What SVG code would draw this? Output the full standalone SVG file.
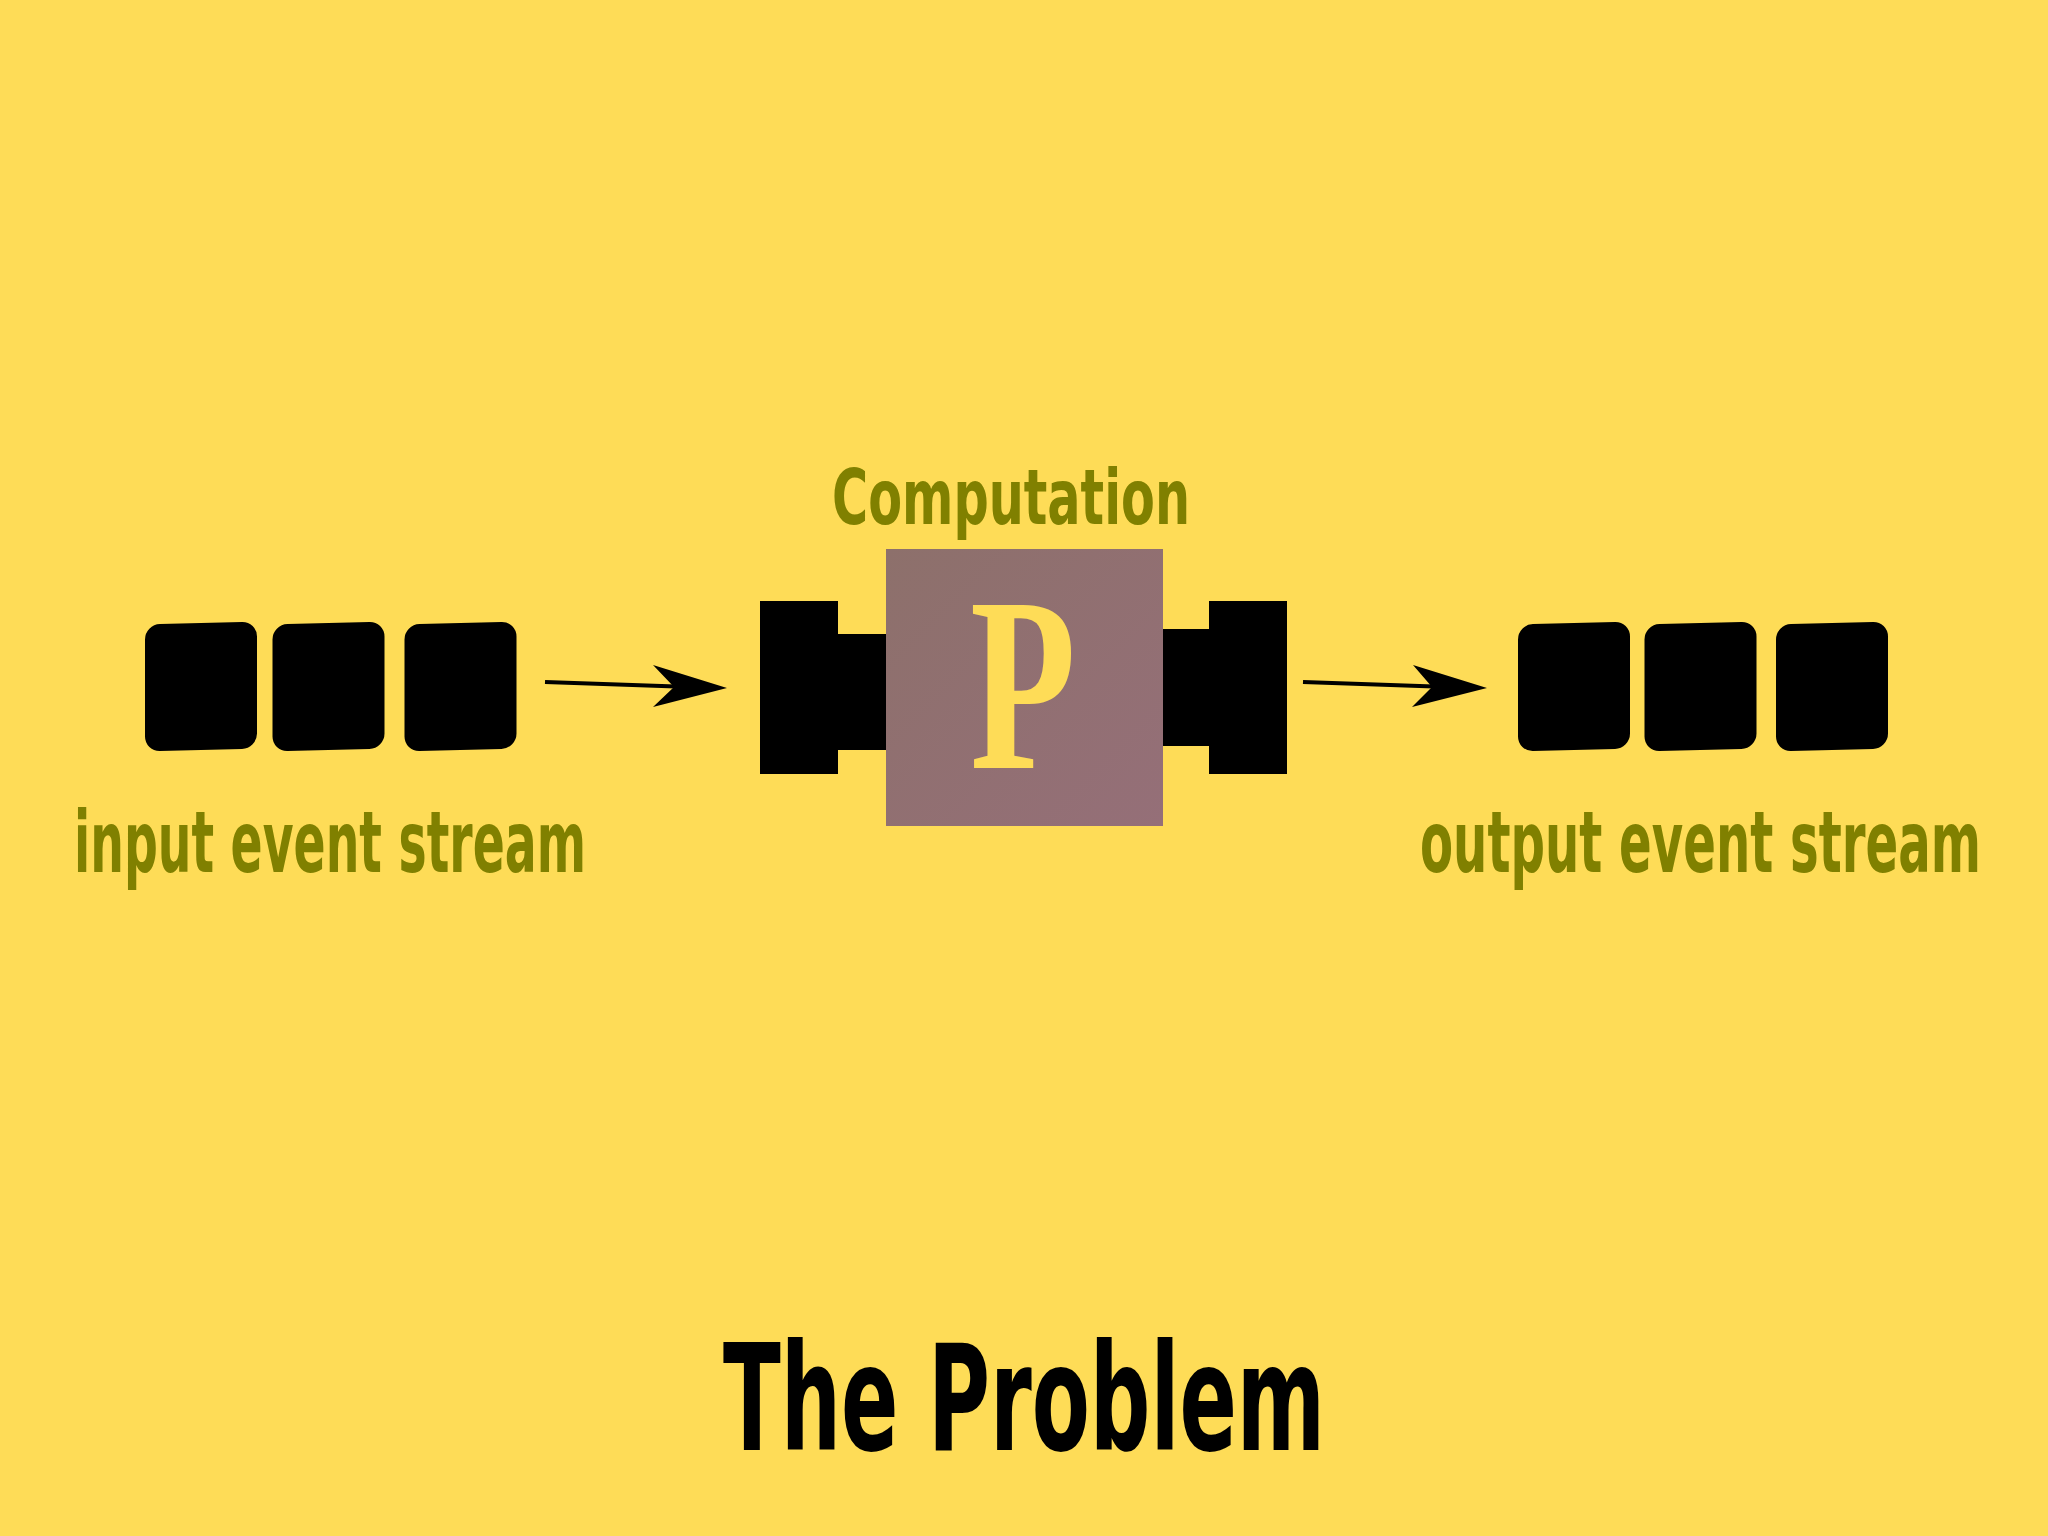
<svg xmlns="http://www.w3.org/2000/svg" xmlns:xlink="http://www.w3.org/1999/xlink" width="2048" height="1536" viewBox="0 0 2048 1536">
<style>
.lbl{font-family:"DejaVu Sans Condensed","Liberation Sans Narrow","Liberation Sans",sans-serif;font-weight:bold;fill:#808000}
.title{font-family:"DejaVu Sans Condensed","Liberation Sans Narrow","Liberation Sans",sans-serif;font-weight:bold;fill:#000}
.blk{fill:#000}
.conn{stroke:#000;stroke-width:4;fill:none}
</style>
<defs>
<rect id="ev" x="-56" y="-63.5" width="112" height="127" rx="15" fill="#000"/>
<linearGradient id="pg" x1="0" y1="0" x2="1" y2="1">
<stop offset="0" stop-color="#8d706b"/>
<stop offset="1" stop-color="#956f78"/>
</linearGradient>
</defs>
<rect width="2048" height="1536" fill="#fedc57"/>

<g id="input-stream">
<use xlink:href="#ev" transform="translate(201,686.5) skewY(-1.5)"/>
<use xlink:href="#ev" transform="translate(328.5,686.5) skewY(-1.5)"/>
<use xlink:href="#ev" transform="translate(460.5,686.5) skewY(-1.5)"/>
<text class="lbl" x="74" y="872" font-size="86" textLength="512" lengthAdjust="spacingAndGlyphs">input event stream</text>
</g>

<g id="computation">
<text class="lbl" x="832" y="524" font-size="76" textLength="358" lengthAdjust="spacingAndGlyphs">Computation</text>
<rect class="blk" x="760" y="601" width="78" height="173"/>
<rect class="blk" x="836" y="634" width="52" height="116"/>
<rect class="blk" x="1160" y="629" width="52" height="117"/>
<rect class="blk" x="1209" y="601" width="78" height="173"/>
<rect x="886" y="549" width="277" height="277" fill="url(#pg)"/>
<text x="970" y="768" font-family="Liberation Serif, serif" font-weight="bold" font-size="248" fill="#fedc57" textLength="106" lengthAdjust="spacingAndGlyphs">P</text>
</g>

<g id="output-stream">
<use xlink:href="#ev" transform="translate(1574,686.5) skewY(-1.5)"/>
<use xlink:href="#ev" transform="translate(1700.5,686.5) skewY(-1.5)"/>
<use xlink:href="#ev" transform="translate(1832,686.5) skewY(-1.5)"/>
<text class="lbl" x="0" y="0" font-size="56" transform="translate(1420,872) scale(1,1.53)" textLength="561" lengthAdjust="spacingAndGlyphs">output event stream</text>
</g>

<g id="connectors">
<line class="conn" x1="545" y1="682" x2="676" y2="686.5"/>
<polygon class="blk" points="727,688 653,665 674,687 653,707"/>
<line class="conn" x1="1303" y1="682" x2="1434" y2="686.5"/>
<polygon class="blk" points="1487,688 1413,665 1432,687 1412,707"/>
</g>

<g id="title">
<text class="title" x="723" y="1450" font-size="148" textLength="602" lengthAdjust="spacingAndGlyphs">The Problem</text>
</g>
</svg>
